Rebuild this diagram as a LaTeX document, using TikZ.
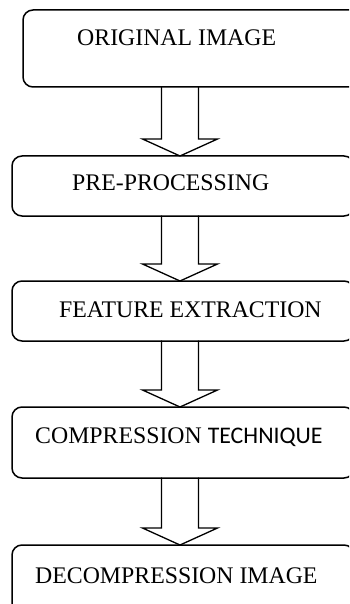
\documentclass[tikz,border=0pt]{standalone}
\usepackage{fontspec}
\setmainfont{Liberation Serif}
\newfontfamily\calfont{Carlito}
\usetikzlibrary{calc}
\begin{document}
\begin{tikzpicture}[x=1pt, y=-1pt, line join=round, line cap=round,
    box/.style={draw, line width=1.5pt, rounded corners=10pt, anchor=north west, outer sep=0pt, inner sep=0pt},
    lbl/.style={anchor=base west, inner sep=0pt, font=\fontsize{23.8}{28}\selectfont},
    blockarrow/.style={draw, line width=1.3pt, line join=miter}]
            \useasboundingbox (0,0) rectangle (349,604);
            \clip (0,0) rectangle (349,604);
            \path (180,0) coordinate (ax);
            % boxes
            \node[box, minimum width=345pt, minimum height=77pt] (orig) at (23,10) {};
            \node[box, minimum width=342pt, minimum height=60pt] (pre) at (12,156) {};
            \node[box, minimum width=342pt, minimum height=60pt] (feat) at (12,281) {};
            \node[box, minimum width=342pt, minimum height=71pt] (comp) at (12,407) {};
            \node[box, minimum width=342pt, minimum height=80pt] (decomp) at (12,545) {};
            % texts
            \node[lbl] (orig-t) at (77,46) {ORIGINAL IMAGE};
            \node[lbl] (pre-t) at (72,190) {PRE-PROCESSING};
            \node[lbl] (feat-t) at (59,317) {FEATURE EXTRACTION};
            \node[lbl] (comp-t) at (35,443) {COMPRESSION {\calfont TECHNIQUE}};
            \node[lbl] (decomp-t) at (35,583) {DECOMPRESSION IMAGE};
            % block arrows
            \foreach \a/\b in {orig/pre, pre/feat, feat/comp, comp/decomp}{
                \draw[blockarrow] let \p1=(\a.south -| ax), \p2=(\b.north -| ax) in
                    (\x1-18.5pt,\y1) -- (\x1-18.5pt,\y2+17pt) -- (\x1-37.5pt,\y2+17pt) -- (\p2)
                    -- (\x1+37.5pt,\y2+17pt) -- (\x1+18.5pt,\y2+17pt) -- (\x1+18.5pt,\y1);
            }
        \end{tikzpicture}
\end{document}
